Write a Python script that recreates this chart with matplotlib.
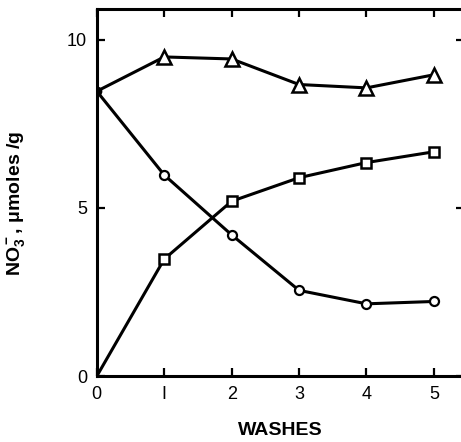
import matplotlib

matplotlib.use("Agg")
import matplotlib.pyplot as plt

# washes and NO3- content (umoles/g)
washes = [0, 1, 2, 3, 4, 5]
tissue_circles = [8.47, 5.98, 4.2, 2.55, 2.15, 2.22]
total_triangles = [8.47, 9.49, 9.43, 8.67, 8.57, 8.96]
washed_squares = [0.0, 3.48, 5.2, 5.9, 6.35, 6.67]

x_ticks = [0, 1, 2, 3, 4, 5]
x_tick_labels = ["0", "I", "2", "3", "4", "5"]
y_ticks = [0, 5, 10]


def main() -> None:
    plt.rcParams.update(
        {
            "font.family": ["Liberation Sans", "DejaVu Sans"],
            "mathtext.fontset": "custom",
            "mathtext.rm": "Liberation Sans:bold",
            "mathtext.it": "Liberation Sans:bold",
            "mathtext.bf": "Liberation Sans:bold",
            "mathtext.default": "bf",
        }
    )
    fig = plt.figure(figsize=(4.61, 4.42), dpi=100)
    # right spine falls just past the image edge in the scan
    ax = fig.add_axes([0.210, 0.149, 0.797, 0.831])

    lw = 2.2
    later = list(range(1, len(washes)))
    ax.plot(washes, total_triangles, color="black", lw=lw, marker="^", ms=9.5,
            mfc="white", mec="black", mew=1.8, markevery=later, zorder=3)
    ax.plot(washes, tissue_circles, color="black", lw=lw, marker="o", ms=6.5,
            mfc="white", mec="black", mew=1.6, markevery=later, zorder=3)
    ax.plot(washes, washed_squares, color="black", lw=lw, marker="s", ms=7.5,
            mfc="white", mec="black", mew=1.8, markevery=later, zorder=3)
    # shared starting point drawn solid
    ax.plot(washes[:1], tissue_circles[:1], "o", color="black", ms=6, zorder=4)

    ax.set_xlim(0, 5.45)
    ax.set_ylim(0, 10.92)
    ax.set_xticks(x_ticks, x_tick_labels)
    ax.set_yticks(y_ticks)
    ax.tick_params(direction="in", length=6, width=1.6, labelsize=13,
                   top=True, right=True, pad=7)
    for spine in ax.spines.values():
        spine.set_linewidth(2.2)
    ax.spines["right"].set_visible(False)

    ax.set_xlabel("WASHES", fontsize=14, fontweight="bold", labelpad=14)
    ax.set_ylabel(r"NO$_3^-$, $\mu$moles /g", fontsize=14, fontweight="bold")
    ax.yaxis.set_label_coords(-0.19, 0.47)

    fig.savefig("out.png", dpi=100)
    plt.close(fig)


if __name__ == "__main__":
    main()
